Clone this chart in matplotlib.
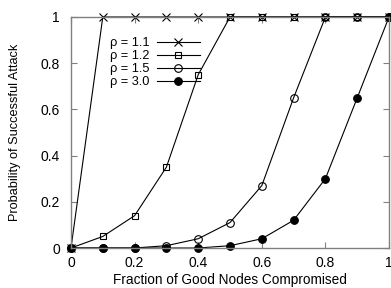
import matplotlib
matplotlib.use("Agg")
import matplotlib.pyplot as plt

x = [0.0, 0.1, 0.2, 0.3, 0.4, 0.5, 0.6, 0.7, 0.8, 0.9, 1.0]
rho_11 = [0, 1, 1, 1, 1, 1, 1, 1, 1, 1, 1]
rho_12 = [0, 0.05, 0.14, 0.35, 0.75, 1, 1, 1, 1, 1, 1]
rho_15 = [0, 0, 0, 0.01, 0.04, 0.11, 0.27, 0.65, 1, 1, 1]
rho_30 = [0, 0, 0, 0, 0, 0.01, 0.04, 0.12, 0.30, 0.65, 1]
labels = ["ρ = 1.1", "ρ = 1.2", "ρ = 1.5", "ρ = 3.0"]
xticks = [0, 0.2, 0.4, 0.6, 0.8, 1]
yticks = [0, 0.2, 0.4, 0.6, 0.8, 1]
ticklabels = ["0", "0.2", "0.4", "0.6", "0.8", "1"]

plt.rcParams['font.family'] = ['Liberation Sans', 'DejaVu Sans']

fig = plt.figure(figsize=(3.91, 2.88), dpi=100)
ax = fig.add_axes([71/391, 40/288, (389-71)/391, (248-17)/288])

lw = 0.8
ms = 5
ax.plot(x, rho_11, color='black', lw=lw, marker='x', ms=ms + 0.5, mew=0.8, label=labels[0], clip_on=False)
ax.plot(x, rho_12, color='black', lw=lw, marker='s', ms=ms, mfc='none', mew=0.8, label=labels[1], clip_on=False)
ax.plot(x, rho_15, color='black', lw=lw, marker='o', ms=ms + 0.5, mfc='none', mew=0.8, label=labels[2], clip_on=False)
ax.plot(x, rho_30, color='black', lw=lw, marker='o', ms=ms + 0.5, mfc='black', mew=0.8, label=labels[3], clip_on=False)

ax.set_xlim(0, 1)
ax.set_ylim(0, 1)
ax.set_xticks(xticks)
ax.set_xticklabels(ticklabels)
ax.set_yticks(yticks)
ax.set_yticklabels(ticklabels)
ax.tick_params(direction='in', length=4, width=0.8, color='#808080', labelsize=10,
               top=True, right=True)
ax.tick_params(axis='x', pad=6)
ax.tick_params(axis='y', pad=8)
for s in ax.spines.values():
    s.set_color('#808080')
    s.set_linewidth(1.0)

ax.set_xlabel("Fraction of Good Nodes Compromised", fontsize=9.8, labelpad=2)
ax.set_ylabel("Probability of Successful Attack", fontsize=9.2, labelpad=14)

leg = ax.legend(loc='upper left', bbox_to_anchor=(0.105, 0.935), frameon=False,
                markerfirst=False, handlelength=3.4, handletextpad=0.6,
                labelspacing=0.08, fontsize=9.2, borderaxespad=0)

fig.savefig("out.png", dpi=100)
